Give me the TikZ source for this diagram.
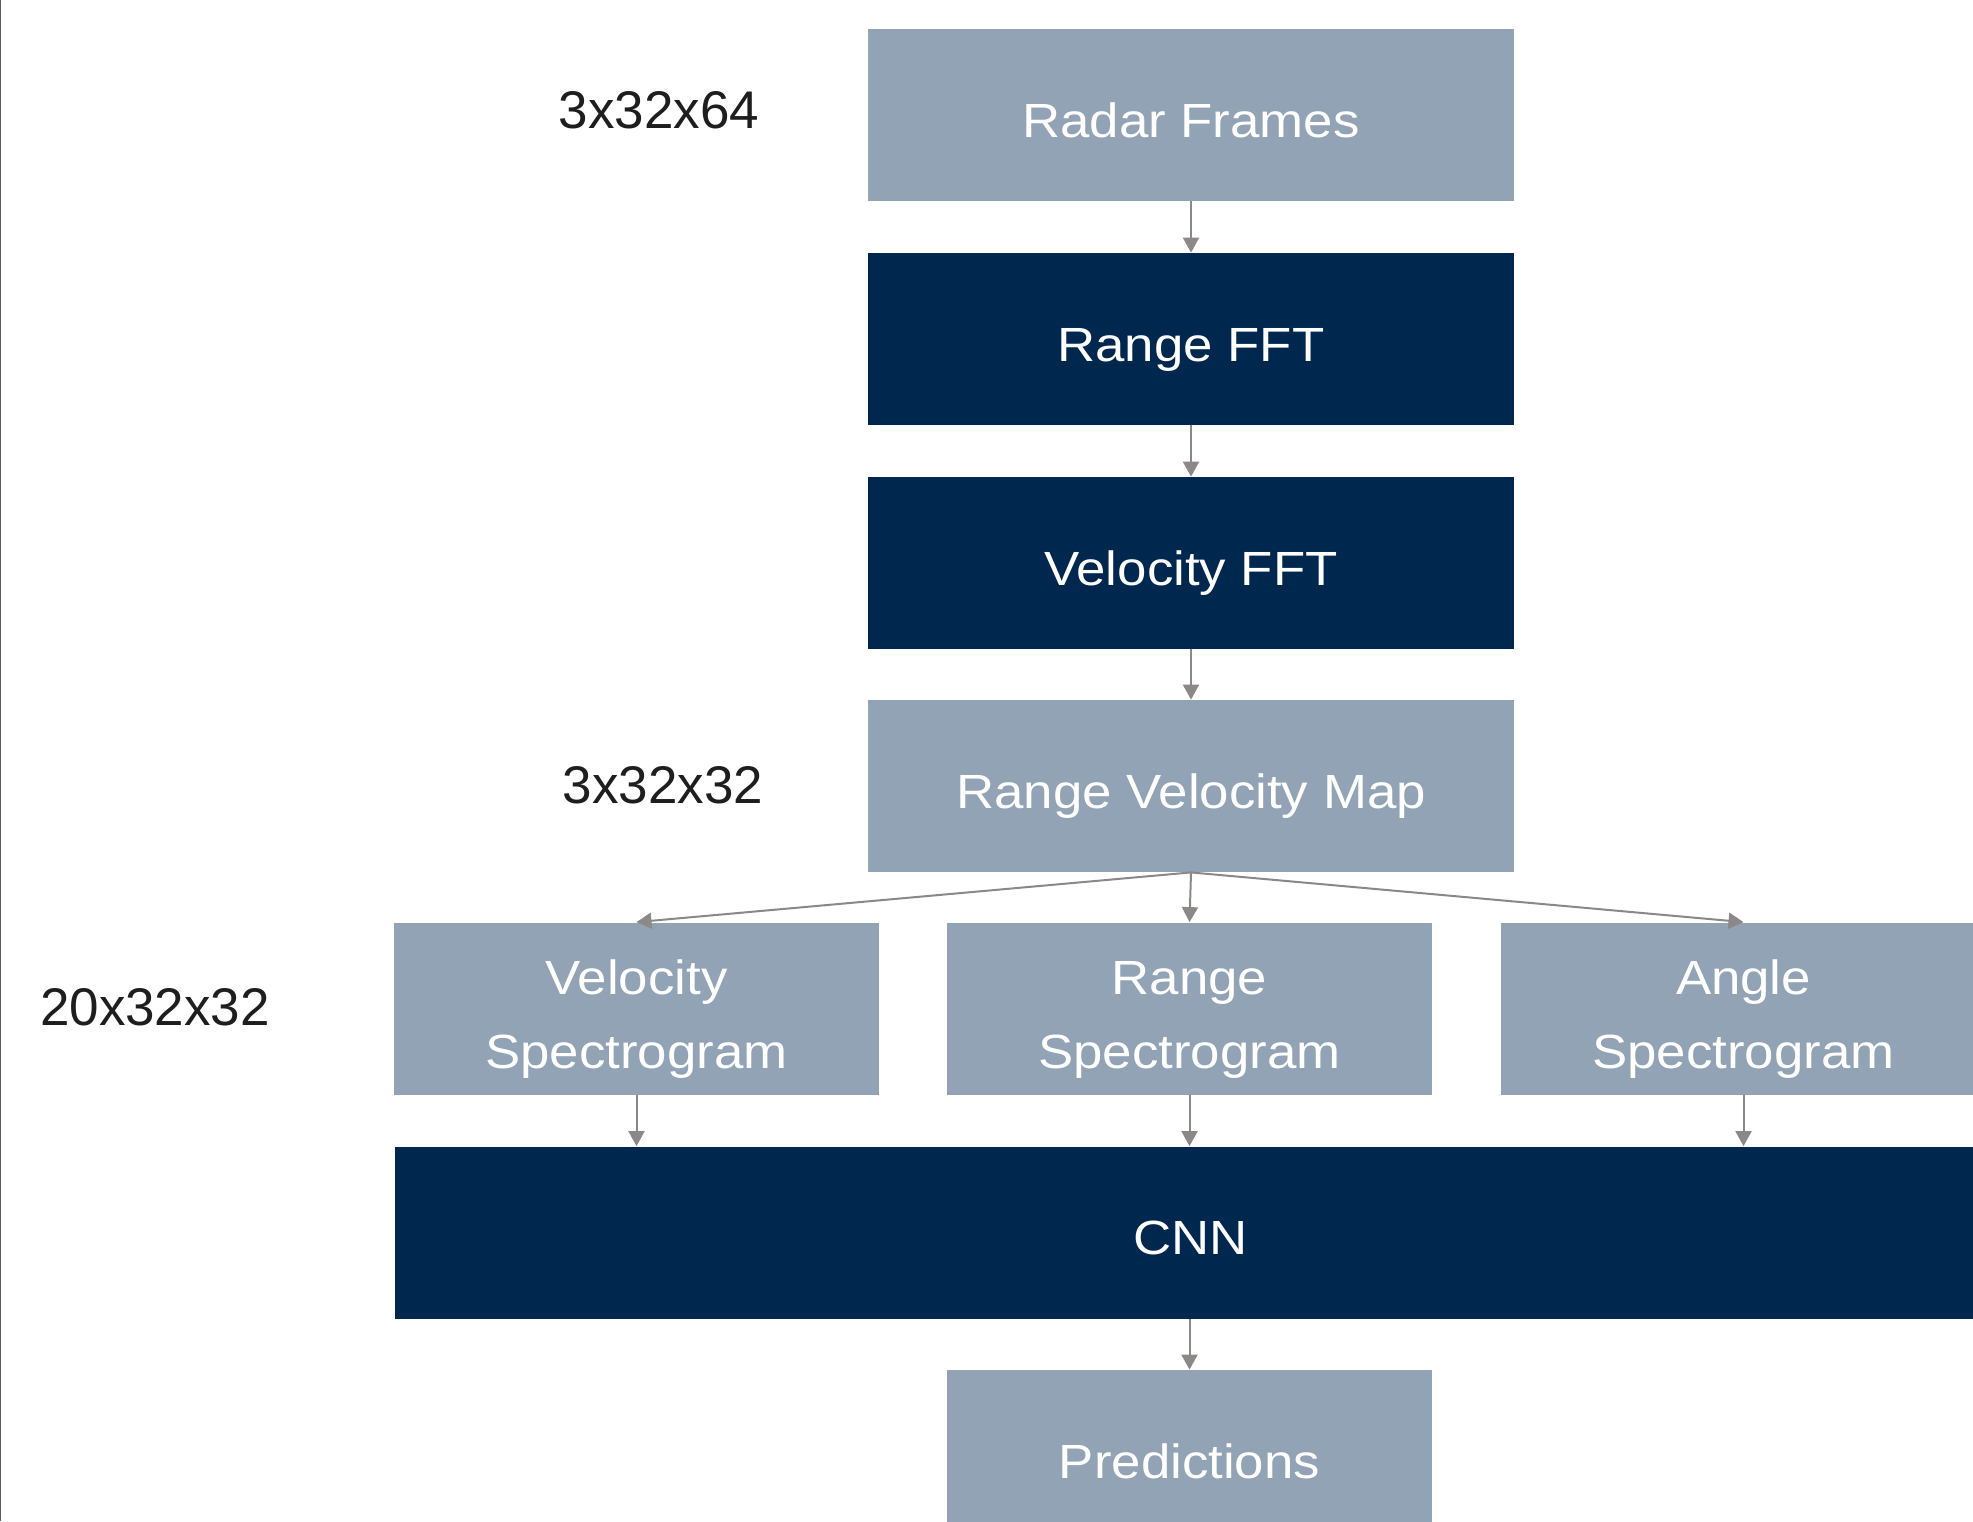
\documentclass[tikz,border=0pt]{standalone}
\usepackage{fontspec}
\setmainfont{Liberation Sans}
\newfontfamily\boxfont[FakeStretch=1.1]{Liberation Sans}
\usetikzlibrary{arrows.meta}
\definecolor{lightbox}{RGB}{146,163,181}
\definecolor{darkbox}{RGB}{0,39,78}
\definecolor{arrowgray}{RGB}{140,136,136}
\definecolor{labelgray}{RGB}{30,30,30}
\definecolor{edgegray}{RGB}{90,90,90}
\tikzset{
  blk/.style={inner sep=0pt, text=white, align=center,
    font=\boxfont\fontsize{24}{37}\selectfont,
    text height=22pt, text depth=0pt, minimum height=86pt},
  twoline/.style={text height=59.5pt, text depth=0pt},
  widebox/.style={blk, minimum width=323pt},
  specbox/.style={blk, minimum width=242.5pt},
  light/.style={fill=lightbox},
  dark/.style={fill=darkbox},
  conn/.style={draw=arrowgray, line width=1pt,
    -{Triangle[length=7.5pt,width=8pt]}},
  dimlabel/.style={anchor=base, text=labelgray, inner sep=0pt,
    font=\fontsize{26.5}{30}\selectfont}
}
\begin{document}
\begin{tikzpicture}[x=0.5pt, y=-0.5pt]
\useasboundingbox (0,0) rectangle (1973,1521);
\fill[white] (0,0) rectangle (1973,1521);
\draw[edgegray, line width=0.6pt] (0.8,0) -- (0.8,1521);

\node[widebox, light] (rf)   at (1191,115)  {Radar Frames};
\node[widebox, dark]  (rfft) at (1191,339)  {Range FFT};
\node[widebox, dark]  (vfft) at (1191,563)  {Velocity FFT};
\node[widebox, light] (rvm)  at (1191,786)  {Range Velocity Map};

\node[specbox, twoline, light] (vs) at (636.5,1008.5)  {Velocity\\Spectrogram};
\node[specbox, twoline, light] (rs) at (1189.5,1008.5) {Range\\Spectrogram};
\node[specbox, twoline, light] (as) at (1743.5,1008.5) {Angle\\Spectrogram};

\node[blk, dark, minimum width=795.5pt] (cnn) at (1190.5,1232.5) {CNN};
\node[specbox, light] (pred) at (1189.5,1456) {Predictions};

\node[dimlabel] (l1) at (659,128)  {3x32x64};
\node[dimlabel] (l2) at (663,803)  {3x32x32};
\node[dimlabel] (l3) at (155,1025) {20x32x32};

\draw[conn] (rf.south) -- (rfft.north);
\draw[conn] (rfft.south) -- (vfft.north);
\draw[conn] (vfft.south) -- (rvm.north);
\draw[conn] (rvm.south) -- (vs.north);
\draw[conn] (rvm.south) -- (rs.north);
\draw[conn] (rvm.south) -- (as.north);
\draw[conn] (vs.south) -- (vs.south |- cnn.north);
\draw[conn] (rs.south) -- (rs.south |- cnn.north);
\draw[conn] (as.south) -- (as.south |- cnn.north);
\draw[conn] (cnn.south -| pred.north) -- (pred.north);
\end{tikzpicture}
\end{document}
